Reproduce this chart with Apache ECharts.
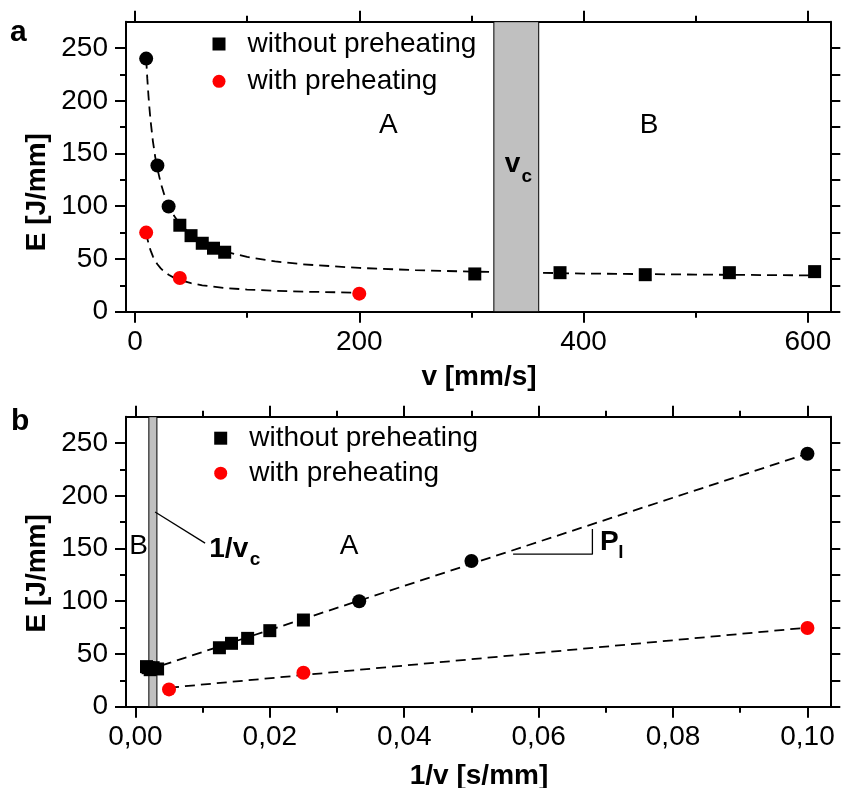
<!DOCTYPE html>
<html><head><meta charset="utf-8">
<script src="https://cdn.jsdelivr.net/npm/echarts@6/dist/echarts.min.js"></script>
<style>html,body{margin:0;padding:0;background:#fff}#c{width:841px;height:788px}</style>
</head><body><div id="c"></div>
<script>
const FONT = '"Liberation Sans", Arial, Helvetica, sans-serif';

// ---------- Panel a: E vs v ----------
const vNoSquare = [40, 50, 60, 70, 80, 303, 379, 455, 530, 606];
const eNoSquare = [82, 72.1, 64.9, 60.2, 56.4, 35.8, 37, 35.1, 37, 38];
const vNoCircle = [10, 20, 30];
const eNoCircle = [240, 138.6, 99.7];
const vWith = [10, 40, 200];
const eWith = [75, 32, 17.1];
// dashed fit curves
const fitNoV = [10, 11, 12, 13, 14, 16, 18, 20, 23, 26, 30, 35, 40, 50, 60, 70, 80, 100, 125, 150, 200, 250, 300, 400, 500, 610];
const fitNoE = [240, 221, 205.2, 191.8, 180.3, 161.6, 147.1, 135.5, 121.9, 111.4, 100.7, 90.7, 83.3, 72.8, 65.8, 60.9, 57.1, 51.9, 47.7, 44.9, 41.5, 39.4, 38, 36.2, 35.2, 34.4];
const fitWithV = [10, 11, 12, 13, 14, 16, 18, 20, 23, 26, 30, 35, 40, 50, 60, 80, 100, 125, 150, 200];
const fitWithE = [75, 69.5, 65, 61.2, 57.9, 52.5, 48.3, 45, 41.1, 38.1, 35, 32.1, 30, 27, 25, 22.5, 21, 19.8, 19, 18];
const bandA = [320, 360];

// ---------- Panel b: E vs 1/v ----------
const invNoSquare = [0.025, 0.02, 0.0167, 0.0143, 0.0125, 0.0033, 0.00264, 0.0022, 0.00189, 0.00165];
const eInvNoSquare = [82.2, 72.1, 64.8, 60.1, 55.9, 35.8, 37, 35.1, 37, 38];
const invNoCircle = [0.1, 0.05, 0.0333];
const eInvNoCircle = [239.8, 138.2, 100];
const invWith = [0.1, 0.025, 0.005];
const eInvWith = [74.6, 32.2, 16.4];
const fitInvNoX = [0.00165, 0.1];
const fitInvNoE = [34.4, 240];
const fitInvWithX = [0.005, 0.1];
const fitInvWithE = [18, 75];
const bandB = [0.002, 0.0032];
const slopeX = [0.0562, 0.068, 0.068];
const slopeE = [144.6, 144.6, 168.6];
const leaderX = [0.00293, 0.01037];
const leaderE = [184.6, 155.1];

// ---------- ticks ----------
const yMajor = [0, 50, 100, 150, 200, 250];
const yMinor = [25, 75, 125, 175, 225];
const yAll = [0, 25, 50, 75, 100, 125, 150, 175, 200, 225, 250];
const xAMajor = [0, 200, 400, 600];
const xAMinor = [100, 300, 500];
const xBMajor = [0, 0.02, 0.04, 0.06, 0.08, 0.1];
const xBMinor = [0.01, 0.03, 0.05, 0.07, 0.09];
const yRange = [0, 275];
const xARange = [-8, 620];
const xBRange = [-0.0014, 0.1034];

const legendNames = ['without preheating', 'with preheating'];

const pts = (xs, ys) => xs.map((x, i) => [x, ys[i]]);
const BLACK = '#000';
const RED = '#ff0000';
const lineStyleAxis = { show: true, onZero: false, lineStyle: { color: BLACK, width: 2 } };
const noLine = { show: false, onZero: false };
const tickStyle = { color: BLACK, width: 2 };

function xAxes(grid, range, major, minor, fmt) {
  const base = { type: 'value', gridIndex: grid, min: range[0], max: range[1], splitLine: { show: false } };
  return [
    Object.assign({}, base, { position: 'bottom', axisLine: lineStyleAxis,
      axisTick: { show: true, length: 11, lineStyle: tickStyle, customValues: major },
      axisLabel: { show: true, customValues: major, formatter: fmt, fontSize: 28, color: BLACK, fontFamily: FONT, margin: 17 } }),
    Object.assign({}, base, { position: 'bottom', axisLine: noLine,
      axisTick: { show: true, length: 6, lineStyle: tickStyle, customValues: minor }, axisLabel: { show: false } }),
    Object.assign({}, base, { position: 'top', axisLine: lineStyleAxis,
      axisTick: { show: true, length: 11, lineStyle: tickStyle, customValues: major }, axisLabel: { show: false } }),
    Object.assign({}, base, { position: 'top', axisLine: noLine,
      axisTick: { show: true, length: 6, lineStyle: tickStyle, customValues: minor }, axisLabel: { show: false } })
  ];
}
function yAxes(grid) {
  const base = { type: 'value', gridIndex: grid, min: yRange[0], max: yRange[1], splitLine: { show: false } };
  return [
    Object.assign({}, base, { position: 'left', axisLine: lineStyleAxis,
      axisTick: { show: true, length: 11, lineStyle: tickStyle, customValues: yMajor },
      axisLabel: { show: true, customValues: yMajor, fontSize: 28, color: BLACK, fontFamily: FONT, margin: 18 } }),
    Object.assign({}, base, { position: 'left', axisLine: noLine,
      axisTick: { show: true, length: 6, lineStyle: tickStyle, customValues: yMinor }, axisLabel: { show: false } }),
    Object.assign({}, base, { position: 'right', axisLine: lineStyleAxis,
      axisTick: { show: true, length: 10, lineStyle: tickStyle, customValues: yAll }, axisLabel: { show: false } })
  ];
}

function panelSeries(xi, yi, d) {
  const dash = { color: BLACK, width: 1.8, type: [10, 6] };
  const s = [
    { name: legendNames[0], type: 'scatter', xAxisIndex: xi, yAxisIndex: yi, symbol: 'rect', symbolSize: 13,
      itemStyle: { color: BLACK, opacity: 1 }, z: 5, data: d.sq },
    { name: legendNames[0], type: 'scatter', xAxisIndex: xi, yAxisIndex: yi, symbol: 'circle', symbolSize: 14,
      itemStyle: { color: BLACK, opacity: 1 }, z: 5, data: d.ci },
    { name: legendNames[1], type: 'scatter', xAxisIndex: xi, yAxisIndex: yi, symbol: 'circle', symbolSize: 14,
      itemStyle: { color: RED, opacity: 1 }, z: 5, data: d.red },
    { name: 'fit1', type: 'line', xAxisIndex: xi, yAxisIndex: yi, showSymbol: false, symbol: 'none',
      smooth: false, lineStyle: dash, z: 2, silent: true, data: d.fit1 },
    { name: 'fit2', type: 'line', xAxisIndex: xi, yAxisIndex: yi, showSymbol: false, symbol: 'none',
      smooth: false, lineStyle: dash, z: 2, silent: true, data: d.fit2 },
    { name: 'band', type: 'line', xAxisIndex: xi, yAxisIndex: yi, data: [], z: 3, silent: true,
      markArea: { silent: true, z: 3, itemStyle: { color: '#c0c0c0', borderColor: BLACK, borderWidth: 1 },
        data: [[{ xAxis: d.band[0] }, { xAxis: d.band[1] }]] } }
  ];
  (d.extra || []).forEach(e => s.push({ name: 'annot', type: 'line', xAxisIndex: xi, yAxisIndex: yi, showSymbol: false,
    symbol: 'none', lineStyle: { color: BLACK, width: 1.3 }, z: 4, silent: true, data: e }));
  return s;
}

const chart = echarts.init(document.getElementById('c'), null, { renderer: 'canvas' });

function txt(x, y, text, size, bold, align, extra) {
  return Object.assign({ type: 'text', x: x, y: y, silent: true, z: 50,
    style: { text: text, font: (bold ? 'bold ' : '') + size + 'px ' + FONT, fill: BLACK,
      align: align || 'center', verticalAlign: 'middle', textAlign: align || 'center', textVerticalAlign: 'middle' } }, extra || {});
}

const legendText = { fontSize: 28, color: BLACK, fontFamily: FONT, padding: [0, 0, 0, 17] };
const option = {
  animation: false,
  backgroundColor: '#fff',
  grid: [
    { left: 126, right: 10.7, top: 21.7, height: 290 },
    { left: 126, right: 10.7, top: 416.7, height: 290 }
  ],
  xAxis: xAxes(0, xARange, xAMajor, xAMinor, v => String(v))
    .concat(xAxes(1, xBRange, xBMajor, xBMinor, v => v.toFixed(2).replace('.', ','))),
  yAxis: yAxes(0).concat(yAxes(1)),
  legend: [
    { data: legendNames, orient: 'vertical', left: 207.5, top: 25, itemWidth: 13, itemHeight: 13, itemGap: 9.3,
      selectedMode: false, textStyle: legendText },
    { data: legendNames, orient: 'vertical', left: 209.2, top: 419.2, itemWidth: 13, itemHeight: 13, itemGap: 7,
      selectedMode: false, textStyle: legendText }
  ],
  series: panelSeries(0, 0, {
    sq: pts(vNoSquare, eNoSquare), ci: pts(vNoCircle, eNoCircle), red: pts(vWith, eWith),
    fit1: pts(fitNoV, fitNoE), fit2: pts(fitWithV, fitWithE), band: bandA
  }).concat(panelSeries(4, 3, {
    sq: pts(invNoSquare, eInvNoSquare), ci: pts(invNoCircle, eInvNoCircle), red: pts(invWith, eInvWith),
    fit1: pts(fitInvNoX, fitInvNoE), fit2: pts(fitInvWithX, fitInvWithE), band: bandB,
    extra: [pts(slopeX, slopeE), pts(leaderX, leaderE)]
  })),
  graphic: [
    txt(10, 32.9, 'a', 30, true, 'left'),
    txt(11, 421.3, 'b', 30, true, 'left'),
    txt(37, 192.2, 'E [J/mm]', 28, true, 'center', { rotation: Math.PI / 2 }),
    txt(37, 573.3, 'E [J/mm]', 28, true, 'center', { rotation: Math.PI / 2 }),
    txt(479, 377.5, 'v [mm/s]', 28, true, 'center'),
    txt(479, 775.8, '1/v [s/mm]', 28, true, 'center'),
    txt(388.3, 125.5, 'A', 28, false, 'center'),
    txt(649, 125, 'B', 28, false, 'center'),
    txt(512.5, 164.3, 'v', 28, true, 'center'),
    txt(526.7, 176.3, 'c', 19, true, 'center'),
    txt(138.7, 546, 'B', 28, false, 'center'),
    txt(349.2, 546, 'A', 28, false, 'center'),
    txt(209.3, 549.6, '1/v', 28, true, 'left'),
    txt(255, 560, 'c', 19, true, 'center'),
    txt(600, 542, 'P', 28, true, 'left'),
    txt(620.8, 552.7, 'l', 19, true, 'center')
  ]
};
chart.setOption(option);
</script>
</body></html>
